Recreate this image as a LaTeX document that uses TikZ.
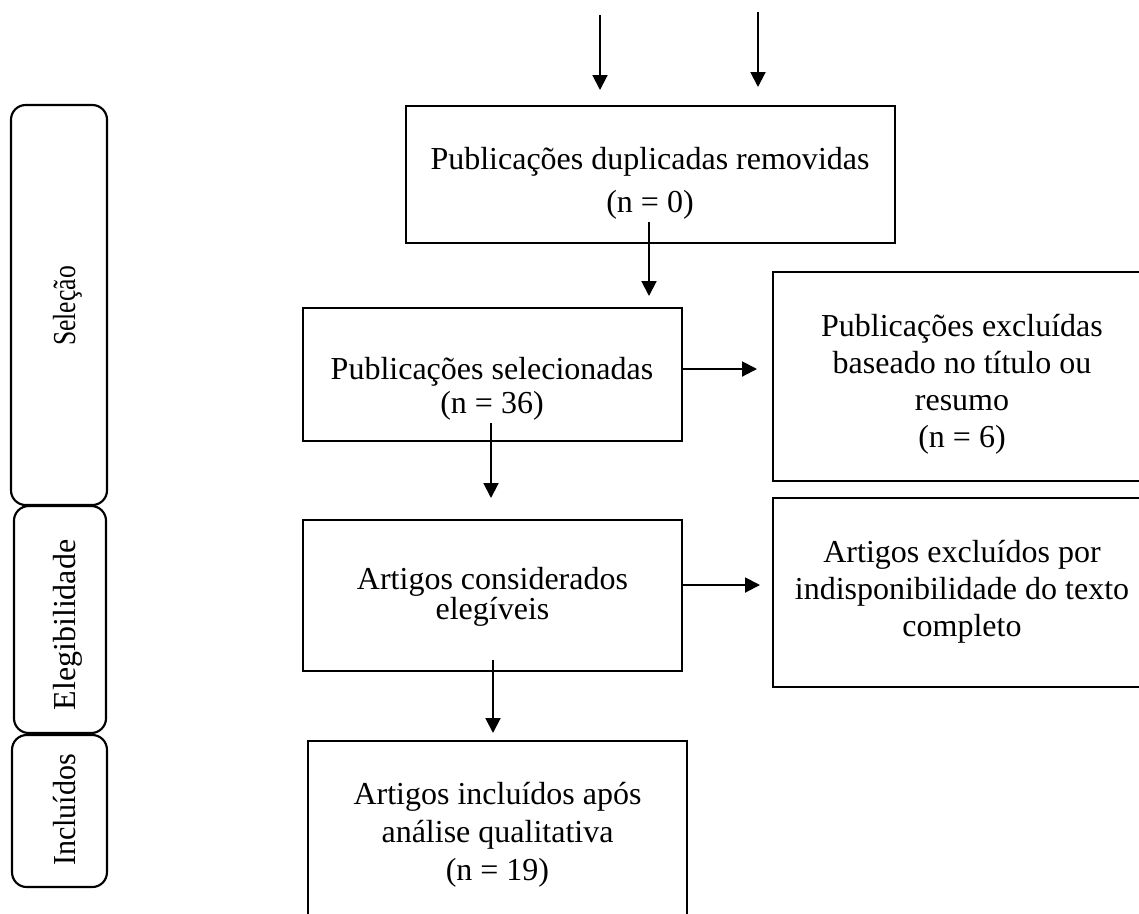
\documentclass[tikz,border=0pt]{standalone}
\usepackage{fontspec}
\usepackage{graphicx}
\setmainfont{Liberation Serif}
\usetikzlibrary{arrows.meta}
\begin{document}
\begin{tikzpicture}[x=0.375pt,y=-0.375pt,
  box/.style={draw,line width=0.8pt,inner sep=0pt,outer sep=0pt},
  side/.style={draw,line width=0.8pt,rounded corners=5.5pt,inner sep=0pt,outer sep=0pt},
  txt/.style={align=center,inner sep=0pt},
  sidetxt/.style={rotate=90,anchor=base,inner sep=0pt,font=\fontsize{12}{14}\selectfont},
  arr/.style={line width=0.75pt,-{Triangle[length=5.6pt,width=5.6pt]}}]
\useasboundingbox (0,0) rectangle (1139,913);
% side phase boxes
\node[side,minimum width=36pt,minimum height=150pt] (sel) at (59,305) {};
\node[side,minimum width=34.5pt,minimum height=85.1pt] (ele) at (60,619.5) {};
\node[side,minimum width=35.6pt,minimum height=57pt] (inc) at (59.5,811) {};
\node[sidetxt] (tsel) at (75,306) {\scalebox{0.8}[1]{Seleção}};
\node[sidetxt] (tele) at (75,625) {Elegibilidade};
\node[sidetxt] (tinc) at (75,810) {\scalebox{0.94}[1]{Incluídos}};
% boxes
\node[box,minimum width=183.5pt,minimum height=51.4pt] (b1) at (650.3,174.2) {};
\node[box,minimum width=142.1pt,minimum height=49.8pt] (b2) at (492.2,374.4) {};
\node[box,minimum width=141.75pt,minimum height=78.4pt] (b3) at (962,376.5) {};
\node[box,minimum width=142.1pt,minimum height=56.6pt] (b4) at (492.5,595.5) {};
\node[box,minimum width=141.75pt,minimum height=70.9pt] (b4r) at (962,592.5) {};
\node[box,minimum width=142.1pt,minimum height=72.75pt] (b5) at (497.5,838) {};
% texts
\node[txt,font=\fontsize{12}{16.1}\selectfont] (t1) at (650,183.5) {Publicações duplicadas removidas\\(n = 0)};
\node[txt,font=\fontsize{12}{12.75}\selectfont] (t2) at (492,389) {Publicações selecionadas\\(n = 36)};
\node[txt,font=\fontsize{12}{13.9}\selectfont] (t3) at (962,384) {Publicações excluídas\\baseado no título ou\\resumo\\(n = 6)};
\node[txt,font=\fontsize{12}{11.25}\selectfont] (t4) at (492.5,596.5) {Artigos considerados\\elegíveis};
\node[txt,font=\fontsize{12}{13.9}\selectfont] (t4r) at (962,591.5) {Artigos excluídos por\\indisponibilidade do texto\\completo};
\node[txt,font=\fontsize{12}{14.25}\selectfont] (t5) at (497.5,835) {Artigos incluídos após\\análise qualitativa\\(n = 19)};
% connector end points
\coordinate (in1s) at (600,15);
\coordinate (in1e) at (600,90);
\coordinate (in2s) at (758,12);
\coordinate (in2e) at (758,87);
\coordinate (a1s) at (649,222);
\coordinate (a1e) at (649,296);
\coordinate (a2e) at (757,369);
\coordinate (a3s) at (491,423);
\coordinate (a3e) at (491,498);
\coordinate (a4e) at (760,585);
\coordinate (a5s) at (493,660);
\coordinate (a5e) at (493,733);
% connectors
\draw[arr] (in1s) -- (in1e);
\draw[arr] (in2s) -- (in2e);
\draw[arr] (a1s) -- (a1e);
\draw[arr] (b2.east |- a2e) -- (a2e);
\draw[arr] (a3s) -- (a3e);
\draw[arr] (b4.east |- a4e) -- (a4e);
\draw[arr] (a5s) -- (a5e);
\end{tikzpicture}
\end{document}
